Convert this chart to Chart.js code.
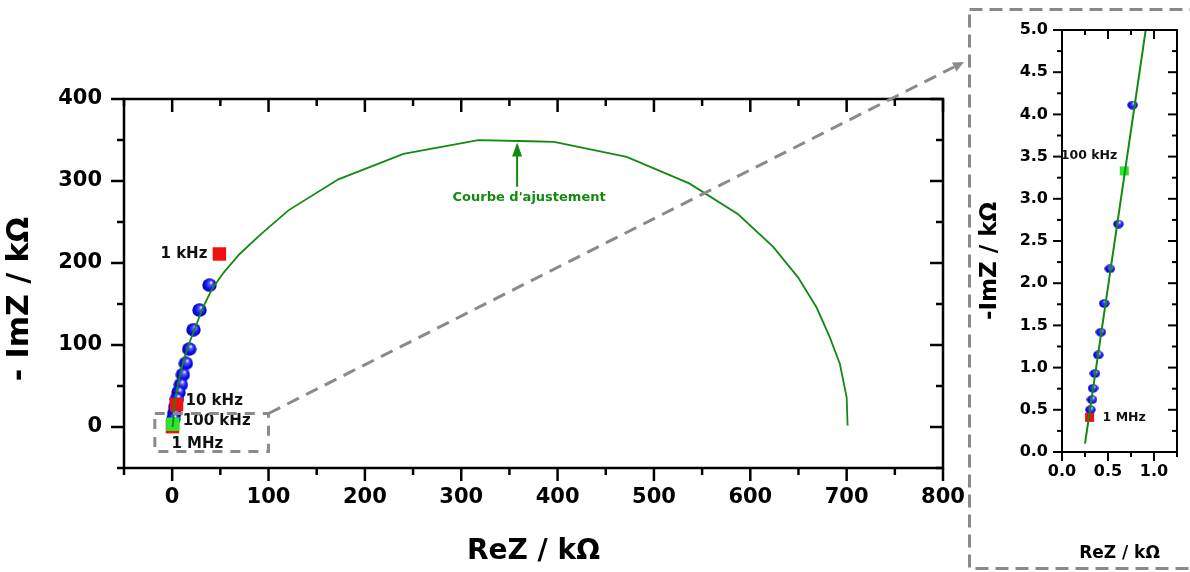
<!DOCTYPE html>
<html>
<head>
<meta charset="utf-8">
<script src="https://cdn.jsdelivr.net/npm/chart.js@4.4.1/dist/chart.umd.min.js"></script>
<style>
  html, body { margin: 0; padding: 0; background: #fff; overflow: hidden; }
  #wrap { position: relative; width: 1190px; height: 572px; }
  #main { position: absolute; left: 0; top: 0; }
  #zoom { position: absolute; left: 970px; top: 0; }
</style>
</head>
<body>
<div id="wrap">
  <canvas id="main" width="1190" height="572"></canvas>
  <canvas id="zoom" width="220" height="572"></canvas>
</div>
<script>
// measured impedance (kOhm), blue spheres in the main plot
const measRe = [38.7, 28.3, 22.1, 17.6, 14.2, 11.1, 9.0, 6.5, 4.9, 3.3, 2.2, 1.3];
const measIm = [173, 142.6, 118.6, 95, 77.6, 63.9, 51.7, 42.3, 34.3, 25, 17, 10];

// same spectrum, high-frequency end (inset)
const zoomRe = [0.767, 0.613, 0.52, 0.459, 0.423, 0.394, 0.358, 0.337, 0.326, 0.308];
const zoomIm = [4.11, 2.70, 2.17, 1.76, 1.42, 1.15, 0.93, 0.755, 0.62, 0.50];

// marked frequencies
const freqText = ['1 MHz', '100 kHz', '10 kHz', '1 kHz'];
const freqRe   = [0.30, 0.677, 4.5, 49];
const freqIm   = [0.41, 3.33, 27.4, 211];

// fitted curve
const fitRe = [0.25, 0.91, 2.5, 6, 11.7, 17, 23.9, 32, 41.2, 53.2, 70, 91, 120.6, 172.5, 240, 317.7,
               371.4, 396.3, 471.7, 536.6, 587.4, 623.8, 649.7, 668.8, 682.6, 693, 700, 701];
const fitIm = [0.1, 5.0, 28, 52, 81, 100, 121, 146, 168, 188, 211, 234, 264.2, 302, 333, 349.8,
               348.5, 347.7, 329.4, 297.1, 259.4, 219.6, 182.2, 145.7, 109.2, 76.8, 36.3, 1.8];

const noteText = "Courbe d'ajustement";
const noteRe = 358;
const noteIm = [293, 347];

// region shown in the inset
const zoomBoxRe = [-18, 100];
const zoomBoxIm = [-30, 16.5];

const FONT = 'DejaVu Sans';
const GREEN = '#128a12';
const DASH = '#8a8a8a';

function pts(xs, ys) { return xs.map((v, i) => ({ x: v, y: ys[i] })); }

function sphere(w, h) {
  const c = document.createElement('canvas');
  c.width = w; c.height = h;
  const g = c.getContext('2d');
  const grad = g.createRadialGradient(w * 0.62, h * 0.3, 0.3, w / 2, h / 2, Math.max(w, h) / 2);
  grad.addColorStop(0, '#ffffff');
  grad.addColorStop(0.22, '#5a5aff');
  grad.addColorStop(0.65, '#0c0cf0');
  grad.addColorStop(1, '#0000a8');
  g.fillStyle = grad;
  g.beginPath();
  g.ellipse(w / 2, h / 2, w / 2 - 0.3, h / 2 - 0.3, 0, 0, Math.PI * 2);
  g.fill();
  return c;
}
const ballMain = sphere(15, 14);
const ballZoom = sphere(11, 9);

const isRed = s => s !== '100 kHz';
const sqFill = freqText.map(s => isRed(s) ? '#f01010' : '#2ce62c');

function onStep(v, step) { const q = v / step; return Math.abs(q - Math.round(q)) < 1e-6; }

function seg(ctx, x1, y1, x2, y2) {
  ctx.beginPath(); ctx.moveTo(x1, y1); ctx.lineTo(x2, y2); ctx.stroke();
}

function arrowHead(ctx, x1, y1, x2, y2, len, half) {
  const a = Math.atan2(y2 - y1, x2 - x1);
  const bx = x2 - len * Math.cos(a), by = y2 - len * Math.sin(a);
  ctx.beginPath();
  ctx.moveTo(x2, y2);
  ctx.lineTo(bx + half * Math.sin(a), by - half * Math.cos(a));
  ctx.lineTo(bx - half * Math.sin(a), by + half * Math.cos(a));
  ctx.closePath();
  ctx.fill();
}

function label(ctx, s, x, y, size, color, align) {
  ctx.font = `bold ${size}px "${FONT}"`;
  ctx.fillStyle = color;
  ctx.textAlign = align;
  ctx.textBaseline = 'middle';
  ctx.fillText(s, x, y);
}

// box with ticks out on left/bottom, in on top/right
function frameAndTicks(chart, o) {
  const { ctx, chartArea: a } = chart;
  const { x, y } = chart.scales;
  ctx.save();
  ctx.strokeStyle = '#000';
  ctx.lineWidth = o.tickWidth;
  x.ticks.forEach(t => {
    const p = x.getPixelForValue(t.value);
    const len = t.label === '' ? o.minor : o.major;
    seg(ctx, p, a.bottom, p, a.bottom + len);
    seg(ctx, p, a.top, p, a.top + len);
  });
  y.ticks.forEach(t => {
    const p = y.getPixelForValue(t.value);
    const len = t.label === '' ? o.minor : o.major;
    seg(ctx, a.left - len, p, a.left, p);
    seg(ctx, a.right - len, p, a.right, p);
  });
  ctx.lineWidth = o.frameWidth;
  ctx.strokeRect(a.left, a.top, a.right - a.left, a.bottom - a.top);
  ctx.restore();
}

const mainOffsets = {
  '1 kHz':   { dx: -12, dy: 0,  align: 'right' },
  '10 kHz':  { dx: 9,   dy: -3, align: 'left' },
  '100 kHz': { dx: 10,  dy: -3, align: 'left' },
  '1 MHz':   { dx: -1,  dy: 17, align: 'left' },
};
const zoomOffsets = {
  '100 kHz': { dx: -7, dy: -15, align: 'right' },
  '1 MHz':   { dx: 13, dy: 0,   align: 'left' },
};

const mainDecor = {
  id: 'mainDecor',
  afterDraw(chart) {
    const { ctx } = chart;
    const { x, y } = chart.scales;
    frameAndTicks(chart, { major: 13, minor: 7, tickWidth: 2.5, frameWidth: 2.5 });

    ctx.save();
    freqText.forEach((s, i) => {
      const o = mainOffsets[s];
      label(ctx, s, x.getPixelForValue(freqRe[i]) + o.dx, y.getPixelForValue(freqIm[i]) + o.dy, 15, '#111', o.align);
    });

    // fit annotation
    const ax = x.getPixelForValue(noteRe);
    const ay0 = y.getPixelForValue(noteIm[0]);
    const ay1 = y.getPixelForValue(noteIm[1]);
    ctx.strokeStyle = GREEN; ctx.fillStyle = GREEN; ctx.lineWidth = 2;
    seg(ctx, ax, ay0, ax, ay1 + 12);
    arrowHead(ctx, ax, ay0, ax, ay1, 14, 5);
    label(ctx, noteText, ax + 12, ay0 + 11, 13, GREEN, 'center');

    // zoom region + leader to inset
    ctx.strokeStyle = DASH; ctx.fillStyle = DASH; ctx.lineWidth = 3;
    ctx.setLineDash([10, 8]);
    const bx1 = x.getPixelForValue(zoomBoxRe[0]), bx2 = x.getPixelForValue(zoomBoxRe[1]);
    const by1 = y.getPixelForValue(zoomBoxIm[1]), by2 = y.getPixelForValue(zoomBoxIm[0]);
    ctx.strokeRect(bx1, by1, bx2 - bx1, by2 - by1);
    ctx.setLineDash([13, 8]);
    seg(ctx, bx2, by1, 954, 67);
    ctx.setLineDash([]);
    arrowHead(ctx, bx2, by1, 964, 62, 11, 5);

    // inset frame
    ctx.setLineDash([13, 7]);
    ctx.strokeRect(969.5, 9.5, 260, 559);
    ctx.restore();
  }
};

const zoomDecor = {
  id: 'zoomDecor',
  afterDraw(chart) {
    const { ctx } = chart;
    const { x, y } = chart.scales;
    frameAndTicks(chart, { major: 9, minor: 5, tickWidth: 2, frameWidth: 2 });
    ctx.save();
    freqText.forEach((s, i) => {
      const o = zoomOffsets[s];
      if (!o) return;
      label(ctx, s, x.getPixelForValue(freqRe[i]) + o.dx, y.getPixelForValue(freqIm[i]) + o.dy, 12.5, '#111', o.align);
    });
    ctx.restore();
  }
};

function axis(o) {
  return {
    type: 'linear',
    min: o.min, max: o.max,
    grid: { display: false, drawTicks: false },
    border: { display: false },
    ticks: {
      stepSize: o.step, autoSkip: false, maxRotation: 0,
      padding: o.pad, color: '#000',
      font: { family: FONT, size: o.size, weight: 'bold' },
      callback: o.fmt,
    },
    title: {
      display: true, text: o.title, color: '#000',
      font: { family: FONT, size: o.titleSize, weight: 'bold' },
      padding: o.titlePad,
    },
    afterFit: o.fit,
  };
}

const common = {
  responsive: false,
  animation: false,
  events: [],
  plugins: { legend: { display: false }, tooltip: { enabled: false } },
};

new Chart(document.getElementById('main'), {
  type: 'scatter',
  data: {
    datasets: [
      { data: pts(fitRe, fitIm), showLine: true, borderColor: GREEN, borderWidth: 1.8,
        pointRadius: 0, tension: 0, order: 0 },
      { data: pts(freqRe, freqIm), pointStyle: 'rect', pointRadius: 9.5,
        backgroundColor: sqFill, borderWidth: 0, order: 1 },
      { data: pts(measRe, measIm), pointStyle: ballMain, pointRadius: 7, order: 2 },
    ],
  },
  options: {
    ...common,
    layout: { padding: { left: 0, top: 99, right: 247, bottom: 0 } },
    scales: {
      x: axis({ min: -50, max: 800, step: 50, pad: 17, size: 21,
        fmt: v => (v >= 0 && onStep(v, 100)) ? String(v) : '',
        title: 'ReZ / kΩ', titleSize: 28, titlePad: { top: 0, bottom: 3 },
        fit: s => { s.height = 104; } }),
      y: axis({ min: -50, max: 400, step: 50, pad: 22, size: 21,
        fmt: v => (v >= 0 && onStep(v, 100)) ? String(v) : '',
        title: '- ImZ / kΩ\u00a0\u00a0\u00a0', titleSize: 30, titlePad: { top: 2, bottom: 0 },
        fit: s => { s.width = 124; } }),
    },
  },
  plugins: [mainDecor],
});

new Chart(document.getElementById('zoom'), {
  type: 'scatter',
  data: {
    datasets: [
      { data: pts(fitRe, fitIm), showLine: true, borderColor: GREEN, borderWidth: 2,
        pointRadius: 0, tension: 0, order: 0 },
      { data: pts(freqRe, freqIm), pointStyle: 'rect', pointRadius: 6.4,
        backgroundColor: sqFill, borderWidth: 0, order: 1 },
      { data: pts(zoomRe, zoomIm), pointStyle: ballZoom, pointRadius: 5, order: 2 },
    ],
  },
  options: {
    ...common,
    layout: { padding: { left: 0, top: 30, right: 13, bottom: 0 } },
    scales: {
      x: axis({ min: 0, max: 1.25, step: 0.25, pad: 10, size: 16,
        fmt: v => onStep(v, 0.5) ? v.toFixed(1) : '',
        title: 'ReZ / kΩ', titleSize: 17, titlePad: { top: 0, bottom: 8 },
        fit: s => { s.height = 120; } }),
      y: axis({ min: 0, max: 5, step: 0.25, pad: 14, size: 16,
        fmt: v => onStep(v, 0.5) ? v.toFixed(1) : '',
        title: '-ImZ / kΩ\u00a0\u00a0\u00a0\u00a0\u00a0', titleSize: 23, titlePad: { top: 6, bottom: 0 },
        fit: s => { s.width = 92; } }),
    },
  },
  plugins: [zoomDecor],
});
</script>
</body>
</html>
